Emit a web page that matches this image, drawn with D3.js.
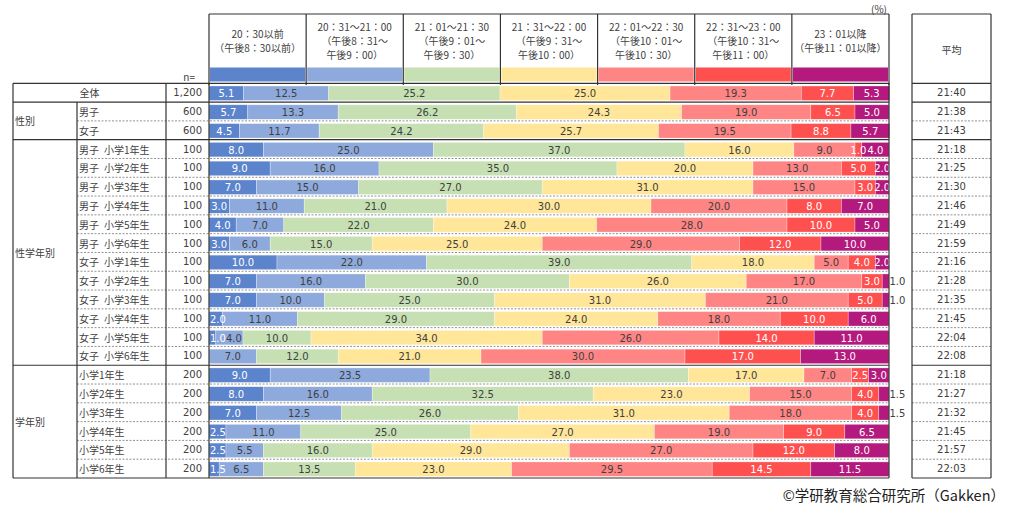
<!DOCTYPE html>
<html>
<head>
<meta charset="utf-8">
<script src="https://cdn.jsdelivr.net/npm/d3@7"></script>
<style>
  body { margin: 0; background: #fff; }
  text { fill: #404040; }
  .jp { font-family: "Noto Sans CJK JP", "Noto Sans", sans-serif; }
  .num { font-family: "DejaVu Sans", sans-serif; }
</style>
</head>
<body>
<div id="chart"></div>
<script>
// bedtime chart - stacked 100% bars with a table on the left

const width = 1029;
const height = 512;

// header text of the seven time bands
const bandLabels = [
  ["20：30以前", "（午後8：30以前）"],
  ["20：31～21：00", "（午後8：31～", "午後9：00）"],
  ["21：01～21：30", "（午後9：01～", "午後9：30）"],
  ["21：31～22：00", "（午後9：31～", "午後10：00）"],
  ["22：01～22：30", "（午後10：01～", "午後10：30）"],
  ["22：31～23：00", "（午後10：31～", "午後11：00）"],
  ["23：01以降", "（午後11：01以降）"]
];

const bandColors = ["#5b84cc", "#8eaadc", "#c6e0b4", "#ffe699", "#ff8585", "#ff5050", "#b4197e"];
const darkBands = [0, 5, 6];  // white labels on these

const rowLabels = [
  "全体",
  "男子", "女子",
  "男子\u2002小学1年生", "男子\u2002小学2年生", "男子\u2002小学3年生",
  "男子\u2002小学4年生", "男子\u2002小学5年生", "男子\u2002小学6年生",
  "女子\u2002小学1年生", "女子\u2002小学2年生", "女子\u2002小学3年生",
  "女子\u2002小学4年生", "女子\u2002小学5年生", "女子\u2002小学6年生",
  "小学1年生", "小学2年生", "小学3年生", "小学4年生", "小学5年生", "小学6年生"
];

const groupNames = ["性別", "性学年別", "学年別"];
const groupStarts = [1, 3, 15];
const groupEnds = [3, 15, 21];

const nValues = [1200, 600, 600,
  100, 100, 100, 100, 100, 100, 100, 100, 100, 100, 100, 100,
  200, 200, 200, 200, 200, 200];

const shares = [
  [5.1, 12.5, 25.2, 25.0, 19.3, 7.7, 5.3],
  [5.7, 13.3, 26.2, 24.3, 19.0, 6.5, 5.0],
  [4.5, 11.7, 24.2, 25.7, 19.5, 8.8, 5.7],
  [8.0, 25.0, 37.0, 16.0, 9.0, 1.0, 4.0],
  [9.0, 16.0, 35.0, 20.0, 13.0, 5.0, 2.0],
  [7.0, 15.0, 27.0, 31.0, 15.0, 3.0, 2.0],
  [3.0, 11.0, 21.0, 30.0, 20.0, 8.0, 7.0],
  [4.0, 7.0, 22.0, 24.0, 28.0, 10.0, 5.0],
  [3.0, 6.0, 15.0, 25.0, 29.0, 12.0, 10.0],
  [10.0, 22.0, 39.0, 18.0, 5.0, 4.0, 2.0],
  [7.0, 16.0, 30.0, 26.0, 17.0, 3.0, 1.0],
  [7.0, 10.0, 25.0, 31.0, 21.0, 5.0, 1.0],
  [2.0, 11.0, 29.0, 24.0, 18.0, 10.0, 6.0],
  [1.0, 4.0, 10.0, 34.0, 26.0, 14.0, 11.0],
  [0.0, 7.0, 12.0, 21.0, 30.0, 17.0, 13.0],
  [9.0, 23.5, 38.0, 17.0, 7.0, 2.5, 3.0],
  [8.0, 16.0, 32.5, 23.0, 15.0, 4.0, 1.5],
  [7.0, 12.5, 26.0, 31.0, 18.0, 4.0, 1.5],
  [2.5, 11.0, 25.0, 27.0, 19.0, 9.0, 6.5],
  [2.5, 5.5, 16.0, 29.0, 27.0, 12.0, 8.0],
  [1.5, 6.5, 13.5, 23.0, 29.5, 14.5, 11.5]
];

const averages = ["21:40", "21:38", "21:43",
  "21:18", "21:25", "21:30", "21:46", "21:49", "21:59",
  "21:16", "21:28", "21:35", "21:45", "22:04", "22:08",
  "21:18", "21:27", "21:32", "21:45", "21:57", "22:03"];

// layout
const tableLeft = 13, catRight = 77, nLeft = 166;
const barLeft = 209, barRight = 889;
const avgLeft = 912, avgRight = 991;
const headTop = 14, tableTop = 83.3, tableBottom = 478;

const svg = d3.select("#chart")
  .append("svg")
  .attr("width", width)
  .attr("height", height);

const x = d3.scaleLinear().domain([0, 100]).range([barLeft, barRight]);
const y = d3.scaleBand().domain(d3.range(rowLabels.length)).range([tableTop, tableBottom]);
const xBand = d3.scaleBand().domain(d3.range(bandLabels.length)).range([barLeft, barRight]);

const rows = rowLabels.map((label, i) => ({ label, values: shares[i] }));
const stacked = d3.stack()
  .keys(d3.range(bandLabels.length))
  .value((d, k) => d.values[k])(rows);

// ---- header ----
const head = svg.append("g");
bandLabels.forEach((lines, k) => {
  const cx = xBand(k) + xBand.bandwidth() / 2;
  const top = lines.length === 3 ? 26.5 : 33.5;
  lines.forEach((line, j) => {
    head.append("text")
      .attr("class", "jp")
      .attr("x", cx)
      .attr("y", top + j * 14)
      .attr("text-anchor", "middle")
      .attr("dominant-baseline", "central")
      .style("font-size", "10px")
      .text(line);
  });
  head.append("rect")
    .attr("x", xBand(k) + 1)
    .attr("y", 67.5)
    .attr("width", xBand.bandwidth() - 2)
    .attr("height", 14)
    .attr("fill", bandColors[k]);
});
d3.range(bandLabels.length + 1).forEach(k => {
  const xx = k < bandLabels.length ? xBand(k) : barRight;
  head.append("line")
    .attr("x1", xx).attr("x2", xx)
    .attr("y1", headTop).attr("y2", 85)
    .attr("stroke", "#333").attr("stroke-width", 1.2);
});
head.append("line")
  .attr("x1", barLeft).attr("x2", barRight)
  .attr("y1", headTop).attr("y2", headTop)
  .attr("stroke", "#333").attr("stroke-width", 1.2);

svg.append("text")
  .attr("class", "jp")
  .attr("x", barRight - 2).attr("y", 8)
  .attr("text-anchor", "end")
  .attr("dominant-baseline", "central")
  .style("font-size", "10px")
  .text("(%)");

svg.append("text")
  .attr("class", "jp")
  .attr("x", 195).attr("y", 76)
  .attr("text-anchor", "end")
  .attr("dominant-baseline", "central")
  .style("font-size", "10px")
  .text("n=");

// ---- bars ----
const barTop = 2.7;
const barH = y.bandwidth() - 4.3;

svg.append("g")
  .selectAll("g")
  .data(stacked)
  .enter().append("g")
  .attr("fill", d => bandColors[d.key])
  .selectAll("rect")
  .data(d => d)
  .enter().append("rect")
  .attr("x", d => x(d[0]))
  .attr("y", (d, i) => y(i) + barTop)
  .attr("width", d => x(d[1]) - x(d[0]))
  .attr("height", barH)
  .attr("stroke", "#fff")
  .attr("stroke-opacity", 0.5)
  .attr("stroke-width", 0.6);

svg.append("defs").append("clipPath")
  .attr("id", "barclip")
  .append("rect")
  .attr("x", barLeft).attr("y", 0)
  .attr("width", barRight - barLeft).attr("height", height);

const labelsIn = svg.append("g").attr("clip-path", "url(#barclip)");
const labelsOut = svg.append("g");
const fmt = d3.format(".1f");

// labels row by row, left to right, nudged so they do not overlap
rows.forEach((row, i) => {
  const cy = y(i) + barTop + barH / 2 + 0.5;
  let prevRight = barLeft + 1;
  stacked.forEach(series => {
    const k = series.key;
    const d = series[i];
    const v = d[1] - d[0];
    if (v <= 0) return;
    if (k === bandLabels.length - 1 && v < 2) {
      labelsOut.append("text")
        .attr("class", "num")
        .attr("x", x(100) + 0.5)
        .attr("y", cy)
        .attr("dominant-baseline", "central")
        .style("font-size", "10px")
        .text(fmt(v));
      return;
    }
    const t = labelsIn.append("text")
      .attr("class", "num")
      .attr("y", cy)
      .attr("text-anchor", "middle")
      .attr("dominant-baseline", "central")
      .style("font-size", "10px")
      .style("fill", darkBands.includes(k) ? "#fff" : "#404040")
      .text(fmt(v));
    const w = t.node().getComputedTextLength();
    const cx = Math.max(x((d[0] + d[1]) / 2), prevRight + w / 2);
    t.attr("x", cx);
    prevRight = cx + w / 2;
  });
});

// ---- left table ----
const table = svg.append("g");

rowLabels.forEach((label, i) => {
  const cy = y(i) + y.bandwidth() / 2;
  if (i === 0) {
    table.append("text")
      .attr("class", "jp")
      .attr("x", (tableLeft + nLeft) / 2).attr("y", cy)
      .attr("text-anchor", "middle")
      .attr("dominant-baseline", "central")
      .style("font-size", "10px")
      .text(label);
  } else {
    table.append("text")
      .attr("class", "jp")
      .attr("x", catRight + 2).attr("y", cy)
      .attr("dominant-baseline", "central")
      .style("font-size", "10px")
      .text(label);
  }
  table.append("text")
    .attr("class", "num")
    .attr("x", 202).attr("y", cy)
    .attr("text-anchor", "end")
    .attr("dominant-baseline", "central")
    .style("font-size", "10px")
    .text(d3.format(",")(nValues[i]));
  svg.append("text")
    .attr("class", "num")
    .attr("x", (avgLeft + avgRight) / 2).attr("y", cy)
    .attr("text-anchor", "middle")
    .attr("dominant-baseline", "central")
    .style("font-size", "10px")
    .text(averages[i]);
});

groupNames.forEach((name, g) => {
  const top = y(groupStarts[g]);
  const bottom = groupEnds[g] < rowLabels.length ? y(groupEnds[g]) : tableBottom;
  table.append("text")
    .attr("class", "jp")
    .attr("x", tableLeft + 2).attr("y", (top + bottom) / 2)
    .attr("dominant-baseline", "central")
    .style("font-size", "10px")
    .text(name);
});

// rules
const solid = (x1, x2, y1, y2) => svg.append("line")
  .attr("x1", x1).attr("x2", x2).attr("y1", y1).attr("y2", y2)
  .attr("stroke", "#333").attr("stroke-width", 1.2);
const dashed = (x1, x2, yy) => svg.append("line")
  .attr("x1", x1).attr("x2", x2).attr("y1", yy).attr("y2", yy)
  .attr("stroke", "#777").attr("stroke-width", 0.8)
  .attr("stroke-dasharray", "2,1.5");

// group boundaries
const solidRows = [0, 1].concat(groupStarts.slice(1));
solidRows.forEach(r => {
  solid(tableLeft, barRight, y(r), y(r));
  solid(avgLeft, avgRight, y(r), y(r));
});
solid(tableLeft, barRight, tableBottom, tableBottom);
solid(avgLeft, avgRight, tableBottom, tableBottom);

// dashed rows inside groups
groupNames.forEach((name, g) => {
  d3.range(groupStarts[g] + 1, groupEnds[g]).forEach(r => {
    dashed(catRight, barRight, y(r));
    dashed(avgLeft, avgRight, y(r));
  });
});

solid(tableLeft, tableLeft, tableTop, tableBottom);
solid(catRight, catRight, y(1), tableBottom);
solid(nLeft, nLeft, tableTop, tableBottom);
solid(barLeft, barLeft, tableTop, tableBottom);
solid(barRight, barRight, tableTop, tableBottom);

// average column box
solid(avgLeft, avgRight, headTop, headTop);
solid(avgLeft, avgLeft, headTop, tableBottom);
solid(avgRight, avgRight, headTop, tableBottom);
svg.append("text")
  .attr("class", "jp")
  .attr("x", (avgLeft + avgRight) / 2).attr("y", 49)
  .attr("text-anchor", "middle")
  .attr("dominant-baseline", "central")
  .style("font-size", "10px")
  .text("平均");

// credit
svg.append("text")
  .attr("class", "jp")
  .attr("x", 1005).attr("y", 494)
  .attr("text-anchor", "end")
  .attr("dominant-baseline", "central")
  .style("font-size", "14.5px")
  .style("fill", "#222")
  .text("©学研教育総合研究所（Gakken）");
</script>
</body>
</html>
